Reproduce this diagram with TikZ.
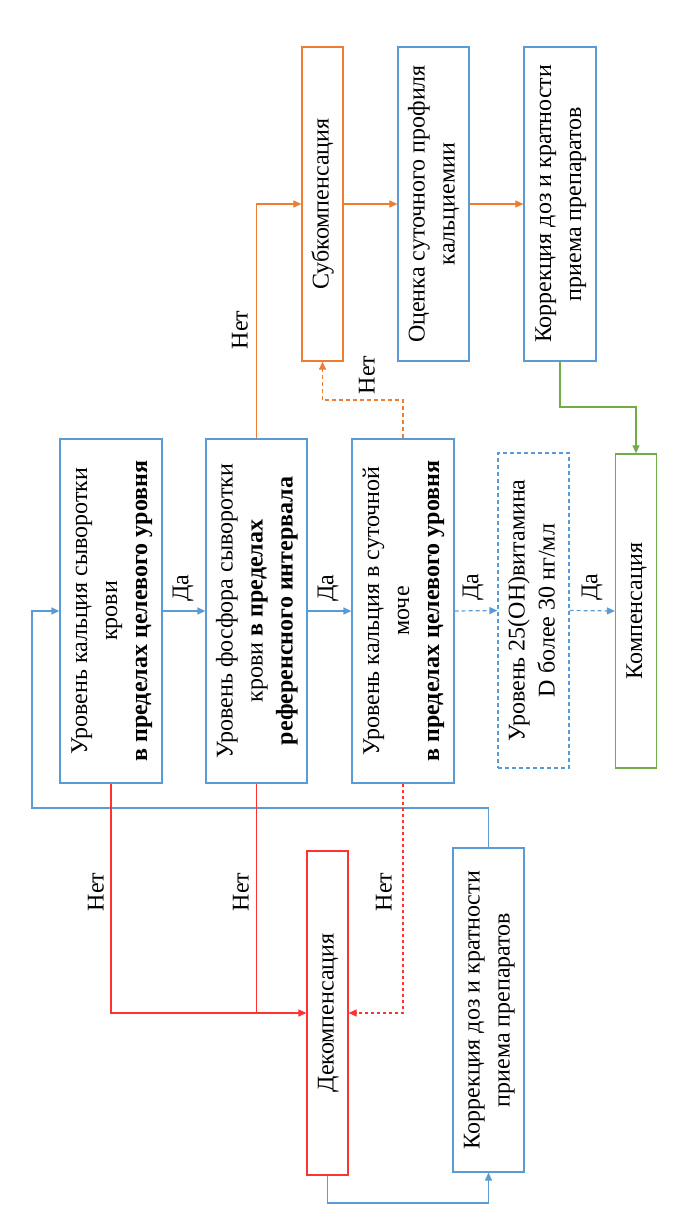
\documentclass[tikz,border=0pt]{standalone}
\usepackage{fontspec}
\setmainfont{Liberation Serif}
\usepackage{graphicx}
\usetikzlibrary{arrows.meta}
\definecolor{cblue}{RGB}{91,155,213}
\definecolor{corange}{RGB}{237,125,49}
\definecolor{cred}{RGB}{255,50,50}
\definecolor{cgreen}{RGB}{112,173,71}
\newcommand{\rtx}[1]{\rotatebox{90}{\begin{tabular}{@{}c@{}}#1\end{tabular}}}
\begin{document}
\begin{tikzpicture}[x=1pt,y=-1pt,
  fnt/.style={font=\fontsize{24}{30}\selectfont},
  boxbase/.style={fnt, rectangle, inner sep=0pt, line width=1.2pt},
  bluebox/.style={boxbase, draw=cblue},
  dashbox/.style={boxbase, draw=cblue, dash pattern=on 4pt off 3pt},
  orangebox/.style={boxbase, draw=corange},
  redbox/.style={boxbase, draw=cred},
  greenbox/.style={boxbase, draw=cgreen},
  tip/.style={-{Triangle[length=8pt,width=7pt]}},
  conn/.style={line width=1.2pt},
  bline/.style={conn, draw=cblue},
  bdash/.style={conn, draw=cblue, dash pattern=on 4pt off 3pt},
  oline/.style={conn, draw=corange},
  odash/.style={conn, draw=corange, dash pattern=on 4pt off 3pt},
  rline/.style={conn, draw=cred},
  rdot/.style={conn, draw=cred, dash pattern=on 3pt off 3pt},
  gline/.style={conn, draw=cgreen},
  lbl/.style={fnt, rotate=90, inner sep=0pt}
]
\useasboundingbox (0,0) rectangle (675,1231);

% main column
\node[bluebox, minimum width=102pt, minimum height=344pt] (b1) at (111,611)
  {\rtx{Уровень кальция сыворотки\\ крови\\ \textbf{в пределах целевого уровня}}};
\node[bluebox, minimum width=101pt, minimum height=344pt] (b2) at (256.5,611)
  {\rtx{Уровень фосфора сыворотки\\ крови \textbf{в пределах}\\ \textbf{референсного интервала}}};
\node[bluebox, minimum width=102pt, minimum height=344pt] (b3) at (403,611)
  {\rtx{Уровень кальция в суточной\\ моче\\ \textbf{в пределах целевого уровня}}};
\node[dashbox, minimum width=71pt, minimum height=315pt] (vit) at (533.5,610.5)
  {\rtx{Уровень 25(ОН)витамина\\ D более 30 нг/мл}};
\node[greenbox, minimum width=41pt, minimum height=314pt] (komp) at (636,611)
  {\rtx{Компенсация}};

% top row
\node[orangebox, minimum width=41pt, minimum height=314pt] (sub) at (322.5,204)
  {\rtx{Субкомпенсация}};
\node[bluebox, minimum width=71pt, minimum height=314pt] (ocen) at (433.5,204)
  {\rtx{Оценка суточного профиля\\ кальциемии}};
\node[bluebox, minimum width=72pt, minimum height=314pt] (kor1) at (560,204)
  {\rtx{Коррекция доз и кратности\\ приема препаратов}};

% bottom row
\node[redbox, minimum width=41pt, minimum height=324pt] (dek) at (327.5,1013)
  {\rtx{Декомпенсация}};
\node[bluebox, minimum width=71pt, minimum height=324pt] (kor2) at (488.5,1010)
  {\rtx{Коррекция доз и кратности\\ приема препаратов}};

% helper coordinates
\coordinate (fb) at (32,808);
\coordinate (db) at (0,1203);
\coordinate (od) at (0,400);
\coordinate (gd) at (0,407);

% Yes arrows
\draw[bline, tip] (b1.east) -- (b2.west);
\draw[bline, tip] (b2.east) -- (b3.west);
\draw[bdash, tip] (b3.east) -- (vit.west);
\draw[bdash, tip] (vit.east) -- (komp.west);
\node[lbl] (y1) at (183,588) {Да};
\node[lbl] (y2) at (328,588) {Да};
\node[lbl] (y3) at (473,587) {Да};
\node[lbl] (y4) at (592,587) {Да};

% feedback loop
\draw[bline, tip] (kor2.north) |- (fb) |- (b1.west);
\draw[bline, tip] (dek.south) -- (dek.south |- db) -| (kor2.south);

% red No
\draw[rline, tip] (b1.south) |- (dek.west);
\draw[rline] (b2.south) -- (b2.south |- dek.west);
\draw[rdot, tip] (b3.south) |- (dek.east);
\node[lbl] (n1) at (96,892) {Нет};
\node[lbl] (n2) at (241,892) {Нет};
\node[lbl] (n3) at (384,892) {Нет};

% orange No
\draw[oline, tip] (b2.north) |- (sub.west);
\draw[odash, tip] (b3.north) -- (b3.north |- od) -| (sub.south);
\node[lbl] (n4) at (240,330) {Нет};
\node[lbl] (n5) at (367,375) {Нет};
\draw[oline, tip] (sub.east) -- (ocen.west);
\draw[oline, tip] (ocen.east) -- (kor1.west);

% green
\draw[gline, tip] (kor1.south) -- (kor1.south |- gd) -| (komp.north);
\end{tikzpicture}
\end{document}
